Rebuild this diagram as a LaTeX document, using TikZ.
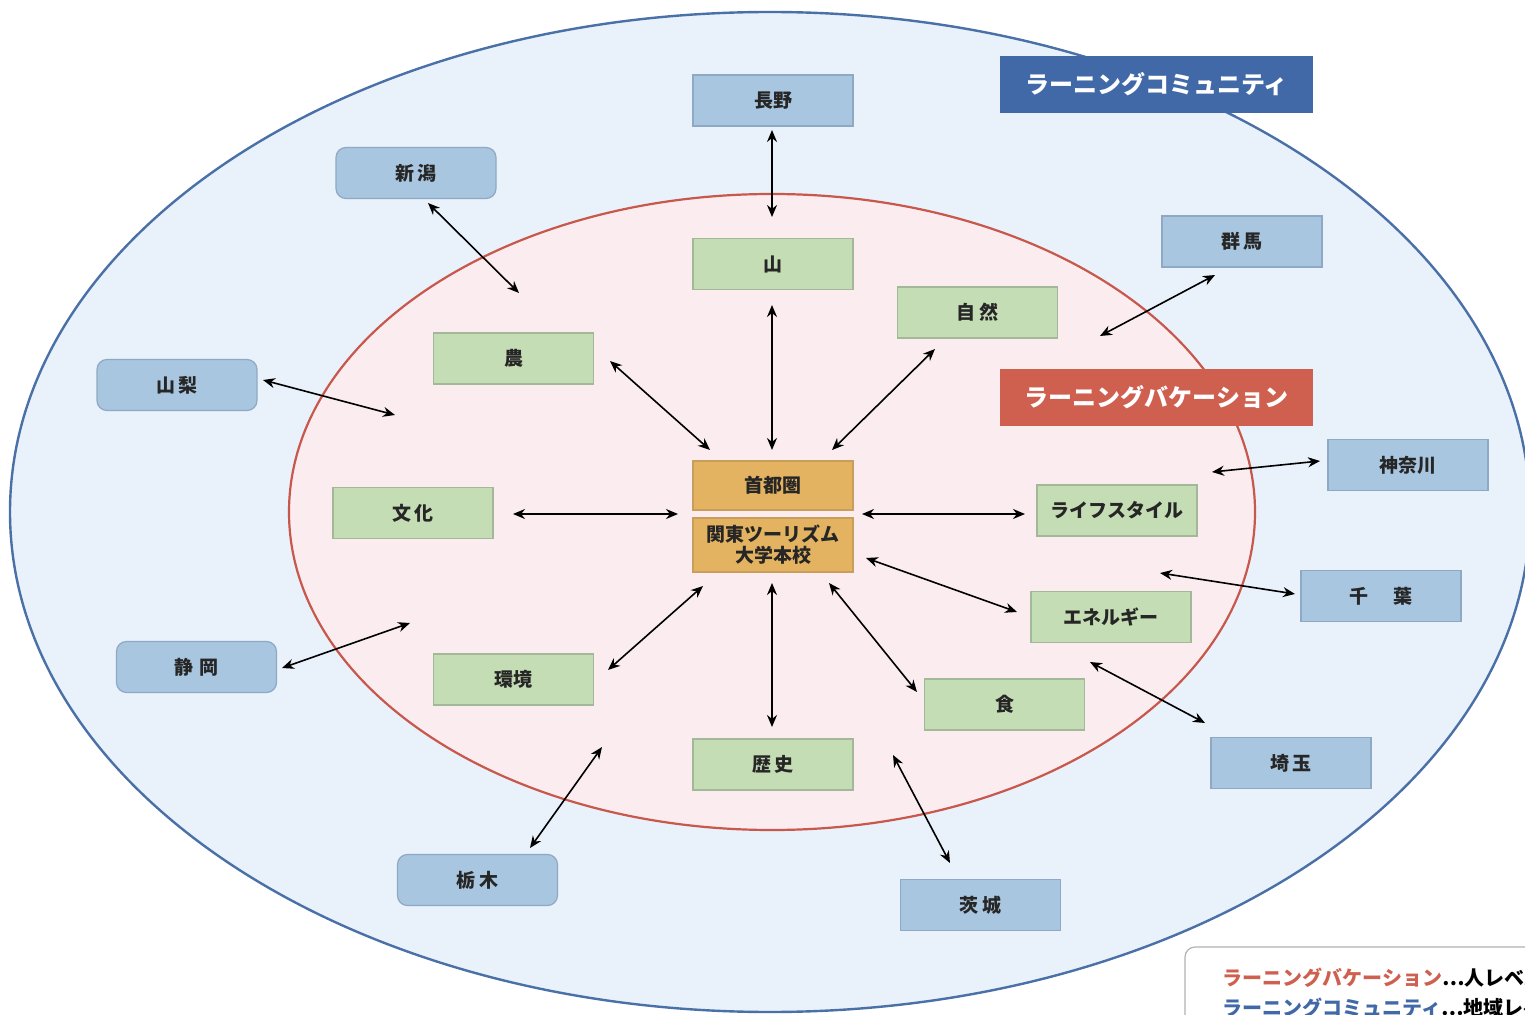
\documentclass[tikz,border=0pt]{standalone}
\usepackage{fontspec}
\setmainfont{Noto Sans CJK JP}
\usetikzlibrary{arrows.meta}
\definecolor{outerfill}{HTML}{E9F1FA}
\definecolor{outerline}{HTML}{4A70A8}
\definecolor{innerfill}{HTML}{FBEDEF}
\definecolor{innerline}{HTML}{C8574C}
\definecolor{bluefill}{HTML}{A9C6E0}
\definecolor{blueline}{HTML}{8FA9C4}
\definecolor{greenfill}{HTML}{C5DDB4}
\definecolor{greenline}{HTML}{A3B898}
\definecolor{orangefill}{HTML}{E3B361}
\definecolor{orangeline}{HTML}{C99D5C}
\definecolor{labblue}{HTML}{4169A8}
\definecolor{labred}{HTML}{CF604F}
\tikzset{
  pref/.style={draw=blueline, fill=bluefill, line width=0.6pt, minimum width=80pt, minimum height=25.5pt, inner sep=0pt, font=\fontsize{9.5}{11}\selectfont\bfseries, text=black!85},
  prefr/.style={pref, rounded corners=5pt},
  theme/.style={draw=greenline, fill=greenfill, line width=0.6pt, minimum width=80pt, minimum height=25.5pt, inner sep=0pt, font=\fontsize{9.5}{11}\selectfont\bfseries, text=black!85},
  core/.style={draw=orangeline, fill=orangefill, line width=0.6pt, minimum width=80pt, inner sep=0pt, align=center, font=\fontsize{9.5}{10.5}\selectfont\bfseries, text=black!85},
  tag/.style={minimum width=156.5pt, minimum height=28.5pt, inner sep=0pt, text=white, font=\fontsize{12}{14}\selectfont\bfseries},
  link/.style={{Stealth[length=6pt,width=5pt]}-{Stealth[length=6pt,width=5pt]}, line width=0.8pt, black},
  legtext/.style={anchor=west, inner sep=0pt, font=\fontsize{10}{12}\selectfont\bfseries}
}
\begin{document}
\begin{tikzpicture}[x=0.5pt,y=-0.5pt]
\useasboundingbox (0,0) rectangle (1525,1015);
\clip (0,0) rectangle (1525,1015);
\fill[white] (0,0) rectangle (1525,1015);
% ellipses
\draw[fill=outerfill, draw=outerline, line width=1.2pt] (770,512) ellipse [x radius=760, y radius=500];
\draw[fill=innerfill, draw=innerline, line width=1.1pt] (772,512) ellipse [x radius=483, y radius=318];
% labels
\node[tag, fill=labblue] (lc) at (1156.5,84.5) {ラーニングコミュニティ};
\node[tag, fill=labred] (lv) at (1156.5,397.5) {ラーニングバケーション};
% center
\node[core, minimum height=24.5pt] (shuto) at (773,485.5) {首都圏};
\node[core, minimum height=27pt] (kanto) at (773,545) {関東ツーリズム\\大学本校};
% themes
\node[theme] (yama) at (773,264) {山};
\node[theme] (shizen) at (977.5,312.5) {自\,然};
\node[theme] (nou) at (513.5,358.5) {農};
\node[theme] (bunka) at (413,513) {文\,化};
\node[theme] (life) at (1117,510.5) {ライフスタイル};
\node[theme] (energy) at (1111,617) {エネルギー};
\node[theme] (shoku) at (1004.5,704.5) {食};
\node[theme] (kankyo) at (513.5,679.5) {環境};
\node[theme] (rekishi) at (773,764.5) {歴\,史};
% prefectures
\node[pref] (nagano) at (773,100.5) {長野};
\node[prefr] (niigata) at (416,173) {新\,潟};
\node[prefr] (yamanashi) at (177,385) {山\,梨};
\node[prefr] (shizuoka) at (196.5,667) {静\,\,岡};
\node[prefr] (tochigi) at (477.5,880) {栃\,木};
\node[pref] (gunma) at (1242,241.5) {群\,馬};
\node[pref] (kanagawa) at (1408,465) {神奈川};
\node[pref] (chiba) at (1381,596) {千\hspace{1.3em}葉};
\node[pref] (saitama) at (1291,763) {埼\,玉};
\node[pref] (ibaraki) at (980.5,905) {茨\,城};
% free ends
\coordinate (c1a) at (772,130); \coordinate (c1b) at (772,217);
\coordinate (c2a) at (428,203); \coordinate (c2b) at (519,293);
\coordinate (c3a) at (263,380); \coordinate (c3b) at (395,415);
\coordinate (c4a) at (282,668); \coordinate (c4b) at (410,623);
\coordinate (c5a) at (530,848); \coordinate (c5b) at (602,747);
\coordinate (c6a) at (950,863); \coordinate (c6b) at (893,755);
\coordinate (c7a) at (1205,723); \coordinate (c7b) at (1090,662);
\coordinate (c8a) at (1295,594); \coordinate (c8b) at (1160,573);
\coordinate (c9a) at (1320,461); \coordinate (c9b) at (1212,472);
\coordinate (c10a) at (1215,275); \coordinate (c10b) at (1100,336);
\coordinate (d1a) at (772,305); \coordinate (d1b) at (772,450);
\coordinate (d2a) at (610,361); \coordinate (d2b) at (710,450);
\coordinate (d3a) at (935,349); \coordinate (d3b) at (832,450);
\coordinate (d4a) at (513,514); \coordinate (d4b) at (678,514);
\coordinate (d5a) at (1025,514); \coordinate (d5b) at (862,514);
\coordinate (d6a) at (1017,612); \coordinate (d6b) at (866,558);
\coordinate (d7a) at (917,692); \coordinate (d7b) at (829,583);
\coordinate (d8a) at (772,727); \coordinate (d8b) at (772,583);
\coordinate (d9a) at (608,670); \coordinate (d9b) at (703,586);
\foreach \a/\b in {c1a/c1b,c2a/c2b,c3a/c3b,c4a/c4b,c5a/c5b,c6a/c6b,c7a/c7b,c8a/c8b,c9a/c9b,c10a/c10b,d1a/d1b,d2a/d2b,d3a/d3b,d4a/d4b,d5a/d5b,d6a/d6b,d7a/d7b,d8a/d8b,d9a/d9b}
  \draw[link] (\a) -- (\b);
% legend
\draw[fill=white, draw=black!30, line width=0.6pt, rounded corners=5pt] (1185,947) rectangle (1600,1080);
\node[legtext] (leg1) at (1222,978) {\textcolor{labred}{ラーニングバケーション}…人レベル};
\node[legtext] (leg2) at (1222,1008) {\textcolor{labblue}{ラーニングコミュニティ}…地域レベル};
\end{tikzpicture}
\end{document}
